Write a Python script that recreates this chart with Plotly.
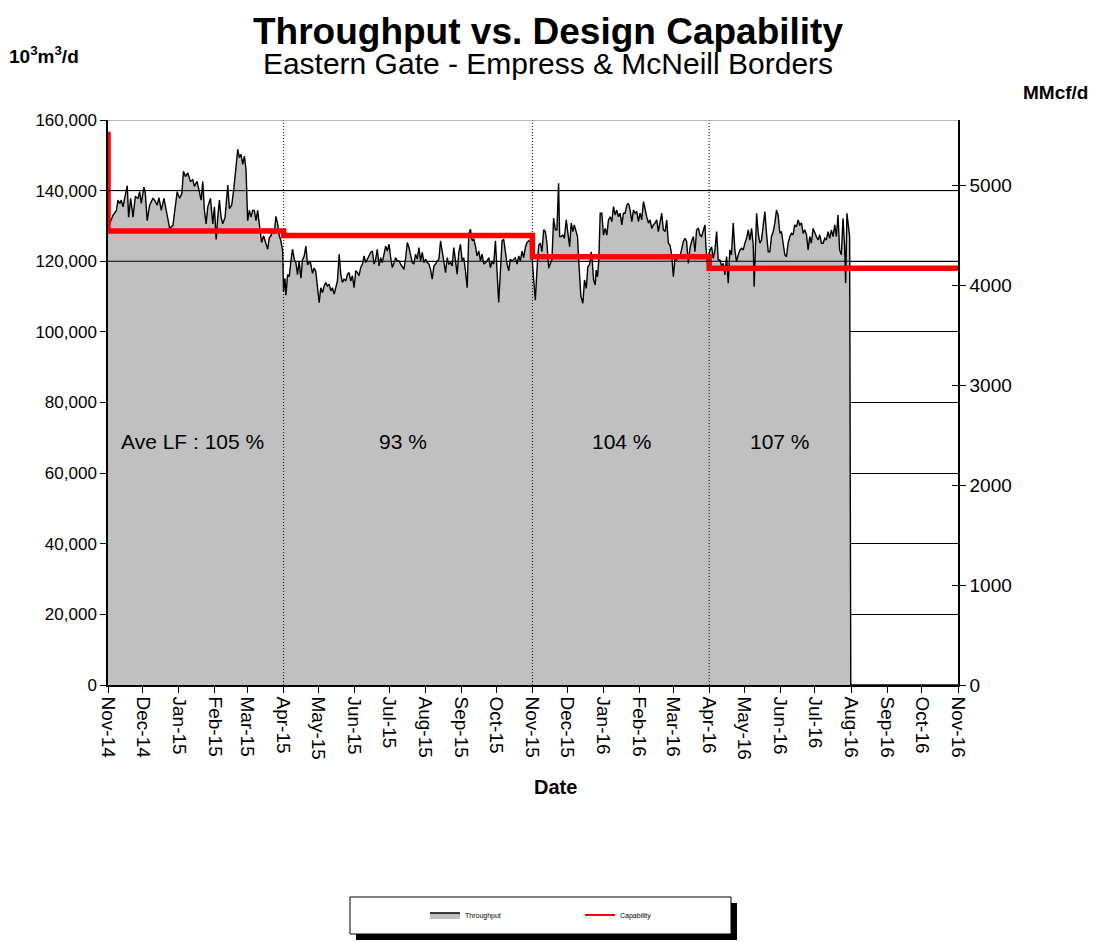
import plotly.graph_objects as go
import pandas as pd

START = pd.Timestamp("2014-11-01")
END = pd.Timestamp("2016-11-01")

# Throughput (10^3 m3/d): (days since 1 Nov 2014, value)
thr_nov14_jun15 = [
    (0, 129000), (1.4, 130600), (4.3, 133000), (7.2, 134400), (8.6, 137300), (10.0, 136400),
    (11.4, 137300), (12.9, 135400), (14.3, 137800), (16.6, 141400), (17.7, 132500), (19.5, 137800),
    (21.5, 132500), (23.5, 138300), (25.8, 137800), (27.2, 139700), (28.6, 136400), (30.9, 141000),
    (32.1, 139200), (33.7, 131500), (35.8, 135900), (38.6, 137800), (40.1, 137300), (42.3, 135900),
    (43.8, 138000), (45.8, 134400), (48.1, 137800), (50.1, 134400), (51.5, 133000), (53.0, 129400),
    (55.8, 130100), (57.8, 135400), (59.5, 139700), (61.5, 137800), (63.5, 139200), (64.9, 145500),
    (66.6, 144000), (68.6, 145000), (70.9, 142600), (72.9, 143100), (74.3, 141200), (76.6, 142600),
    (78.6, 139200), (80.1, 137300), (81.5, 142600), (82.9, 134400), (84.4, 130600), (85.8, 135400),
    (88.1, 137800), (90.1, 130600), (91.5, 135400), (93.0, 126200), (94.4, 132500), (95.8, 137300),
    (97.2, 132500), (98.7, 130600), (100.7, 132500), (103.0, 141600), (104.4, 134900), (106.4, 135900),
    (108.1, 140200), (110.1, 146400), (111.6, 151700), (113.0, 149300), (114.4, 150300), (115.9, 147400),
    (117.3, 149800), (118.7, 146000), (120.1, 131500), (121.6, 134400), (123.0, 132500), (124.4, 134400),
    (125.8, 134400), (127.3, 131500), (128.7, 134400), (130.1, 130600), (132.1, 125300), (133.8, 127200),
    (135.8, 124800), (137.3, 123400), (138.7, 126700), (140.1, 127200), (141.6, 128700), (143.0, 127700),
    (144.4, 132700), (145.9, 130600), (147.3, 127200), (148.7, 125800), (150.2, 122900), (151.0, 111400),
    (152.2, 115200), (153.0, 110400), (154.5, 116200), (155.9, 115700), (157.3, 120000), (158.7, 123400),
    (160.2, 120500), (161.6, 119500), (163.0, 116200), (164.4, 120000), (165.9, 115200), (167.3, 120500),
    (168.7, 121400), (170.2, 124300), (171.6, 119000), (173.9, 120000), (175.9, 116600), (177.3, 118100),
    (178.7, 117100),
]

thr_may15_oct15 = [
    (180.2, 112500), (181.6, 108300), (183.0, 112500), (184.5, 111100), (185.9, 113000), (187.3, 114000),
    (188.7, 113000), (190.2, 113500), (191.6, 111600), (193.0, 112500), (194.5, 110700), (195.9, 112500),
    (197.3, 114400), (198.8, 122000), (200.2, 116300), (201.6, 114000), (203.0, 114900), (204.5, 114400),
    (205.9, 116300), (207.3, 116800), (208.8, 114400), (210.2, 115900), (211.6, 112500), (213.1, 117300),
    (214.5, 116800), (215.9, 115900), (217.3, 118200), (218.8, 119200), (220.2, 121500), (221.6, 119600),
    (223.1, 120600), (224.5, 121500), (225.9, 122500), (227.4, 122900), (228.8, 119200), (230.2, 120600),
    (231.6, 123400), (233.1, 118700), (234.5, 121000), (235.9, 119600), (237.4, 122000), (238.8, 124300),
    (240.2, 122900), (241.7, 124800), (243.1, 121000), (244.5, 118200), (246.0, 119600), (247.4, 121000),
    (248.8, 120100), (250.2, 120100), (251.7, 119200), (253.1, 118200), (254.5, 117700), (256.0, 121000),
    (257.4, 125300), (258.8, 123900), (260.2, 122000), (261.7, 119600), (263.1, 119200), (264.5, 122000),
    (266.0, 120600), (267.4, 123900), (268.8, 120100), (270.3, 122500), (271.7, 119600), (273.1, 120600),
    (274.5, 119600), (276.0, 119200), (277.4, 117700), (278.8, 114900), (280.3, 118700), (281.7, 119200),
    (283.1, 120100), (284.6, 120600), (286.0, 125800), (287.4, 122900), (288.8, 119200), (290.3, 116800),
    (291.7, 121000), (293.1, 119200), (294.6, 119600), (296.0, 118700), (297.4, 123900), (298.9, 120600),
    (300.3, 116300), (301.7, 122500), (303.1, 124800), (304.6, 120100), (306.0, 121000), (307.4, 117300),
    (308.9, 112500), (310.3, 127700), (311.7, 129100), (313.2, 125800), (314.6, 126200), (316.0, 124300),
    (317.4, 121500), (318.9, 122900), (320.3, 120100), (321.7, 122000), (323.2, 119200), (324.6, 119600),
    (326.0, 120100), (327.5, 121000), (328.9, 118200), (330.3, 120100), (331.7, 119200), (333.2, 125800),
    (334.6, 117300), (336.0, 108300), (337.5, 117300), (338.9, 125800), (340.3, 126200), (341.8, 122000),
    (343.2, 119200), (344.6, 117300), (346.0, 120600), (347.5, 120100), (348.9, 120600), (350.3, 121000),
    (351.8, 119200), (353.2, 121500), (354.6, 120100), (356.1, 122900), (357.5, 121000), (358.9, 123900),
    (360.3, 125300), (361.8, 125800),
]

thr_nov15_apr16 = [
    (363.2, 125600), (364.7, 121300), (366.1, 114700), (367.5, 109000), (368.9, 117500), (370.4, 124600),
    (371.8, 125100), (373.2, 122700), (374.7, 128900), (376.1, 128400), (377.5, 125100), (379.0, 118000),
    (380.4, 119400), (381.8, 120400), (383.2, 132200), (384.7, 128900), (386.1, 128900), (387.5, 142100),
    (388.4, 127000), (389.5, 127000), (391.2, 127400), (392.4, 126500), (394.1, 131700), (395.5, 127000),
    (397.0, 124100), (398.4, 130800), (399.8, 128400), (401.0, 130300), (402.4, 128900), (403.8, 127000),
    (404.7, 120800), (405.5, 115600), (406.7, 110000), (408.4, 108100), (409.8, 114700), (411.3, 112300),
    (412.7, 118500), (414.1, 119000), (415.6, 122700), (416.4, 120400), (417.6, 114700), (419.0, 113300),
    (419.8, 117500), (421.0, 115600), (422.1, 120400), (423.3, 133600), (424.7, 133600), (426.1, 127400),
    (427.6, 129300), (429.0, 127400), (430.4, 131700), (431.9, 132600), (433.3, 131200), (434.7, 135500),
    (436.2, 133100), (437.6, 134500), (439.0, 132600), (440.4, 133600), (441.9, 130300), (443.3, 133600),
    (444.7, 133600), (446.2, 135900), (447.6, 136400), (449.0, 134500), (450.5, 131200), (451.9, 134500),
    (453.3, 133600), (454.7, 134100), (456.2, 131200), (457.6, 133600), (459.0, 131700), (460.5, 136900),
    (461.9, 134500), (463.3, 132600), (464.8, 130800), (466.2, 131700), (467.6, 129300), (469.0, 130300),
    (470.5, 130800), (471.9, 131700), (473.3, 128400), (474.8, 131200), (476.2, 133600), (477.6, 128900),
    (479.1, 128400), (480.5, 131700), (481.9, 125100), (483.3, 124600), (484.8, 121800), (486.2, 115600),
    (487.6, 120800), (489.1, 120400), (490.5, 121300), (491.9, 121300), (493.4, 123200), (494.8, 125600),
    (496.2, 126500), (497.6, 125600), (499.1, 119400), (500.5, 123700), (501.9, 125600), (503.4, 127000),
    (504.8, 122700), (506.2, 128900), (507.7, 129300), (509.1, 127400), (510.5, 127000), (511.9, 128400),
    (513.4, 130300), (514.2, 124100),
]

thr_apr16_jul16 = [
    (515.4, 119400), (516.2, 121300), (517.7, 123200), (519.1, 124100), (520.5, 120800), (522.0, 123200),
    (523.4, 128400), (524.8, 120400), (526.2, 120400), (527.7, 118500), (529.1, 119400), (530.5, 116100),
    (532.0, 121300), (533.4, 113800), (534.8, 123200), (536.2, 121800), (537.7, 130800), (539.1, 123200),
    (540.5, 119900), (542.0, 121800), (543.5, 123200), (544.9, 123700), (546.3, 123200), (547.7, 125100),
    (549.2, 126500), (550.6, 128900), (552.0, 126000), (553.5, 129300), (554.9, 124600), (555.7, 112800),
    (556.9, 125100), (557.8, 133600), (559.2, 127900), (560.6, 125100), (562.0, 126000), (563.5, 129800),
    (564.9, 134100), (566.3, 127900), (567.8, 122700), (569.2, 122700), (570.6, 127000), (572.1, 128400),
    (573.5, 130800), (574.9, 134500), (576.3, 133100), (577.8, 127900), (579.2, 128400), (580.6, 125100),
    (582.1, 121800), (583.5, 121300), (584.9, 125100), (586.4, 127000), (587.8, 127900), (589.2, 127500),
    (590.6, 130300), (592.1, 129800), (593.5, 131700), (594.9, 130300), (596.4, 130800), (597.8, 127900),
    (599.2, 128900), (600.7, 127500), (602.1, 123200), (603.5, 127000), (604.9, 125100), (606.4, 129300),
    (607.8, 127900), (609.2, 127000), (610.7, 126000), (612.1, 127500), (613.5, 125100), (615.0, 125100),
    (616.4, 126500), (617.8, 126000), (619.2, 128400), (620.7, 126500), (622.1, 128900), (623.5, 127000),
    (625.0, 130300), (626.4, 127000), (627.8, 133100), (629.2, 123200), (630.7, 121800), (632.1, 132200),
    (633.5, 124100), (634.4, 113800), (635.5, 133600), (636.4, 130800), (637.8, 127000), (638.8, 0),
    (731.0, 0),
]

# Design capability (10^3 m3/d) step changes
cap_dates = ["2014-11-01", "2014-11-01", "2015-04-01", "2015-11-01", "2016-04-01", "2016-11-01"]
cap_values = [156700, 128600, 127300, 121300, 118000, 118000]

# Period boundaries and average load factor labels
period_bounds = ["2015-04-01", "2015-11-01", "2016-04-01"]
period_labels = ["Ave LF : 105 %", "93 %", "104 %", "107 %"]
period_label_dates = ["2015-01-13", "2015-07-13", "2016-01-17", "2016-06-01"]
period_label_value = 69000

month_ticks = [
    "2014-11-01", "2014-12-01", "2015-01-01", "2015-02-01", "2015-03-01", "2015-04-01",
    "2015-05-01", "2015-06-01", "2015-07-01", "2015-08-01", "2015-09-01", "2015-10-01",
    "2015-11-01", "2015-12-01", "2016-01-01", "2016-02-01", "2016-03-01", "2016-04-01",
    "2016-05-01", "2016-06-01", "2016-07-01", "2016-08-01", "2016-09-01", "2016-10-01",
    "2016-11-01",
]
month_labels = [
    "Nov-14", "Dec-14", "Jan-15", "Feb-15", "Mar-15", "Apr-15", "May-15", "Jun-15", "Jul-15",
    "Aug-15", "Sep-15", "Oct-15", "Nov-15", "Dec-15", "Jan-16", "Feb-16", "Mar-16", "Apr-16",
    "May-16", "Jun-16", "Jul-16", "Aug-16", "Sep-16", "Oct-16", "Nov-16",
]

M3_PER_MCF = 28.3168  # 10^3 m3 per MMcf
Y_MAX = 160000
right_ticks = [0, 1000, 2000, 3000, 4000, 5000]

FONT = "Liberation Sans, Arial, sans-serif"

pts = thr_nov14_jun15 + thr_may15_oct15 + thr_nov15_apr16 + thr_apr16_jul16
thr_days = [p[0] for p in pts]
thr_values = [p[1] for p in pts]
thr_dates = START + pd.to_timedelta(thr_days, unit="D")

fig = go.Figure()

fig.add_trace(go.Scatter(
    x=thr_dates, y=thr_values, mode="lines", name="Throughput",
    fill="tozeroy", fillcolor="#c0c0c0",
    line=dict(color="black", width=1.4), hoverinfo="skip",
))

for b in period_bounds:
    fig.add_trace(go.Scatter(
        x=[b, b], y=[0, Y_MAX], mode="lines", showlegend=False,
        line=dict(color="black", width=1, dash="1px,2px"), hoverinfo="skip",
    ))

fig.add_trace(go.Scatter(
    x=cap_dates, y=cap_values, mode="lines", line_shape="hv", showlegend=False,
    line=dict(color="#ff0000", width=5.5), hoverinfo="skip",
))
# legend entry (thin line as in the original legend)
fig.add_trace(go.Scatter(
    x=[None], y=[None], mode="lines", name="Capability",
    line=dict(color="#ff0000", width=2),
))
# secondary axis carriers (labels outside, inner tick marks)
for ax in ("y2", "y3"):
    fig.add_trace(go.Scatter(
        x=[START], y=[0], yaxis=ax, mode="markers", marker=dict(opacity=0),
        showlegend=False, hoverinfo="skip",
    ))

for txt, d in zip(period_labels, period_label_dates):
    fig.add_annotation(x=d, y=period_label_value, text=txt, showarrow=False,
                       xanchor="center", yanchor="middle",
                       font=dict(family=FONT, size=21, color="black"))

# page is drawn with an 8 px body margin; helpers map screen pixels to paper coords
def px_x(px):
    return (px - 108) / 850.0

def px_y(py):
    return (685 - py) / 565.0

def label(x, y, text, size, yanchor="middle"):
    fig.add_annotation(xref="paper", yref="paper", x=px_x(x), y=px_y(y), text=text,
                       showarrow=False, xanchor="center", yanchor=yanchor,
                       font=dict(family=FONT, size=size, color="black"))

label(548, 8.5,
      "<span style='font-size:37px'><b>Throughput vs. Design Capability</b></span><br>"
      "<span style='font-size:30px'>Eastern Gate - Empress & McNeill Borders</span>",
      23, yanchor="top")
label(44, 55, "<b>10<sup>3</sup>m<sup>3</sup>/d</b>", 19)
label(1055, 92, "<b>MMcf/d</b>", 19)
label(555, 787, "<b>Date</b>", 20)

# gridlines visible over the area
shapes = []
for gy in (120000, 140000):
    shapes.append(dict(type="line", xref="x", yref="y", x0=START, x1=END, y0=gy, y1=gy,
                       line=dict(color="black", width=1), layer="above"))
shapes.append(dict(type="line", xref="paper", yref="y", x0=0, x1=1, y0=Y_MAX, y1=Y_MAX,
                   line=dict(color="#a0a0a0", width=1.5), layer="above"))
# legend box with shadow
shapes.append(dict(type="rect", xref="paper", yref="paper",
                   x0=px_x(356), x1=px_x(737), y0=px_y(940), y1=px_y(903),
                   fillcolor="black", line=dict(width=0), layer="below"))
shapes.append(dict(type="rect", xref="paper", yref="paper",
                   x0=px_x(350), x1=px_x(731), y0=px_y(934), y1=px_y(897),
                   fillcolor="white", line=dict(color="black", width=1), layer="below"))

fig.update_layout(
    width=1090, height=934,
    margin=dict(l=100, r=140, t=112, b=257),
    paper_bgcolor="white", plot_bgcolor="white",
    font=dict(family=FONT, color="black"),
    shapes=shapes,
    showlegend=True,
    legend=dict(orientation="h", x=px_x(425), y=px_y(915), xanchor="left", yanchor="middle",
                bgcolor="rgba(0,0,0,0)", font=dict(family=FONT, size=7, color="black"),
                entrywidth=110, entrywidthmode="pixels"),
    xaxis=dict(type="date", range=[START, END], tickvals=month_ticks, ticktext=month_labels,
               tickangle=90, ticks="outside", ticklen=6, tickcolor="black",
               showline=True, linecolor="black", linewidth=1.5, showgrid=False, zeroline=False,
               tickfont=dict(family=FONT, size=19, color="black")),
    yaxis=dict(range=[0, Y_MAX], dtick=20000, tickformat=",", showgrid=True,
               gridcolor="black", gridwidth=1, ticks="outside", ticklen=6, tickcolor="black",
               showline=True, linecolor="black", linewidth=1.5, zeroline=False,
               tickfont=dict(family=FONT, size=17, color="black")),
    yaxis2=dict(overlaying="y", side="right", range=[0, Y_MAX / M3_PER_MCF],
                tickvals=right_ticks, ticks="outside", ticklen=6, tickcolor="black",
                showline=True, linecolor="black", linewidth=1.5, showgrid=False, zeroline=False,
                tickfont=dict(family=FONT, size=19, color="black")),
    yaxis3=dict(overlaying="y", side="right", range=[0, Y_MAX / M3_PER_MCF],
                tickvals=right_ticks, ticks="inside", ticklen=6, tickcolor="black",
                showticklabels=False, showline=False, showgrid=False, zeroline=False),
)

fig.write_html("out.html")
